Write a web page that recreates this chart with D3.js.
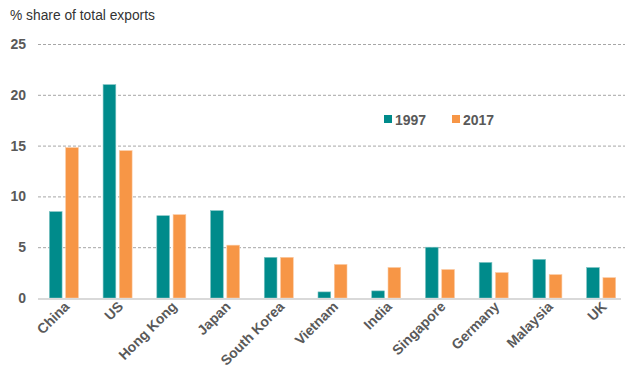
<!DOCTYPE html>
<html>
<head>
<meta charset="utf-8">
<script src="https://cdn.jsdelivr.net/npm/d3@7"></script>
<style>
  body { margin: 0; background: #fff; }
  text { font-family: "Liberation Sans", Arial, sans-serif; }
</style>
</head>
<body>
<svg></svg>
<script>
// data
let countries = ['China', 'US', 'Hong Kong', 'Japan', 'South Korea', 'Vietnam',
  'India', 'Singapore', 'Germany', 'Malaysia', 'UK'];
let share1997 = [8.5, 21.0, 8.1, 8.6, 4.0, 0.6, 0.7, 5.0, 3.5, 3.8, 3.0];
let share2017 = [14.8, 14.5, 8.2, 5.2, 4.0, 3.3, 3.0, 2.8, 2.5, 2.3, 2.0];
let years = ['1997', '2017'];
let yTicks = [0, 5, 10, 15, 20, 25];

let colors = { '1997': '#008b8b', '2017': '#f79646' };

let config = { svg: {}, plot: {} };
config.svg.width = 625;
config.svg.height = 374;
config.plot.left = 37;
config.plot.right = 628;
config.plot.top = 44;
config.plot.bottom = 298;

let svg = d3.select('svg')
  .attr('width', config.svg.width)
  .attr('height', config.svg.height);

let x = d3.scaleBand()
  .domain(countries)
  .range([config.plot.left, config.plot.right]);

let xInner = d3.scaleBand()
  .domain(years)
  .range([0, 29])
  .paddingInner(0.22);

let y = d3.scaleLinear()
  .domain([0, 25])
  .range([config.plot.bottom, config.plot.top]);

// title
svg.append('text')
  .attr('x', 10)
  .attr('y', 20)
  .attr('font-size', 13.8)
  .attr('fill', '#333')
  .text('% share of total exports');

// gridlines
svg.append('g')
  .selectAll('line')
  .data(yTicks.filter(d => d > 0))
  .enter()
  .append('line')
    .attr('x1', 38)
    .attr('x2', 625)
    .attr('y1', d => y(d) + 0.5)
    .attr('y2', d => y(d) + 0.5)
    .attr('stroke', '#a6a6a6')
    .attr('stroke-dasharray', '3,2');

// y axis labels
let gy = svg.append('g')
  .attr('transform', translate(26, 0))
  .call(d3.axisLeft(y).tickValues(yTicks).tickSize(0).tickPadding(0));
gy.select('.domain').remove();
gy.selectAll('text')
  .attr('font-family', '"Liberation Sans", Arial, sans-serif')
  .attr('font-size', 14)
  .attr('font-weight', 'bold')
  .attr('fill', '#595959');

// bars
let rows = countries.map((c, i) => ({ country: c, '1997': share1997[i], '2017': share2017[i] }));
let groups = svg.append('g')
  .selectAll('g')
  .data(rows)
  .enter()
  .append('g')
    .attr('transform', d => translate(x(d.country) + x.bandwidth() / 2 - 14.5, 0));

groups.selectAll('rect')
  .data(d => years.map(k => ({ key: k, value: d[k] })))
  .enter()
  .append('rect')
    .attr('x', d => xInner(d.key))
    .attr('y', d => y(d.value))
    .attr('width', xInner.bandwidth())
    .attr('height', d => y(0) - y(d.value))
    .attr('fill', d => colors[d.key])
    .attr('stroke', d => d.key === '1997' ? '#7fc4c4' : '#fbc9a1')
    .attr('stroke-width', 0.6);

// baseline
svg.append('line')
  .attr('x1', 38)
  .attr('x2', 621)
  .attr('y1', y(0) + 1)
  .attr('y2', y(0) + 1)
  .attr('stroke', '#d9d9d9')
  .attr('stroke-width', 2);

// x axis labels
let gx = svg.append('g')
  .attr('transform', translate(0, y(0) + 6))
  .call(d3.axisBottom(x).tickSize(0).tickPadding(0));
gx.select('.domain').remove();
gx.selectAll('text')
  .attr('font-family', '"Liberation Sans", Arial, sans-serif')
  .attr('font-size', 14)
  .attr('font-weight', 'bold')
  .attr('fill', '#595959')
  .attr('text-anchor', 'end')
  .attr('dy', '0.35em')
  .attr('transform', 'translate(3,0) rotate(-45)');

// legend
let legend = svg.append('g')
  .selectAll('g')
  .data(years)
  .enter()
  .append('g')
    .attr('transform', (d, i) => translate(384 + i * 68, 115));
legend.append('rect')
  .attr('width', 8)
  .attr('height', 8)
  .attr('fill', d => colors[d]);
legend.append('text')
  .attr('x', 11)
  .attr('y', 9.5)
  .attr('font-size', 14)
  .attr('font-weight', 'bold')
  .attr('fill', '#595959')
  .text(d => d);

function translate(x, y) {
  return 'translate(' + x + ',' + y + ')';
}
</script>
</body>
</html>
